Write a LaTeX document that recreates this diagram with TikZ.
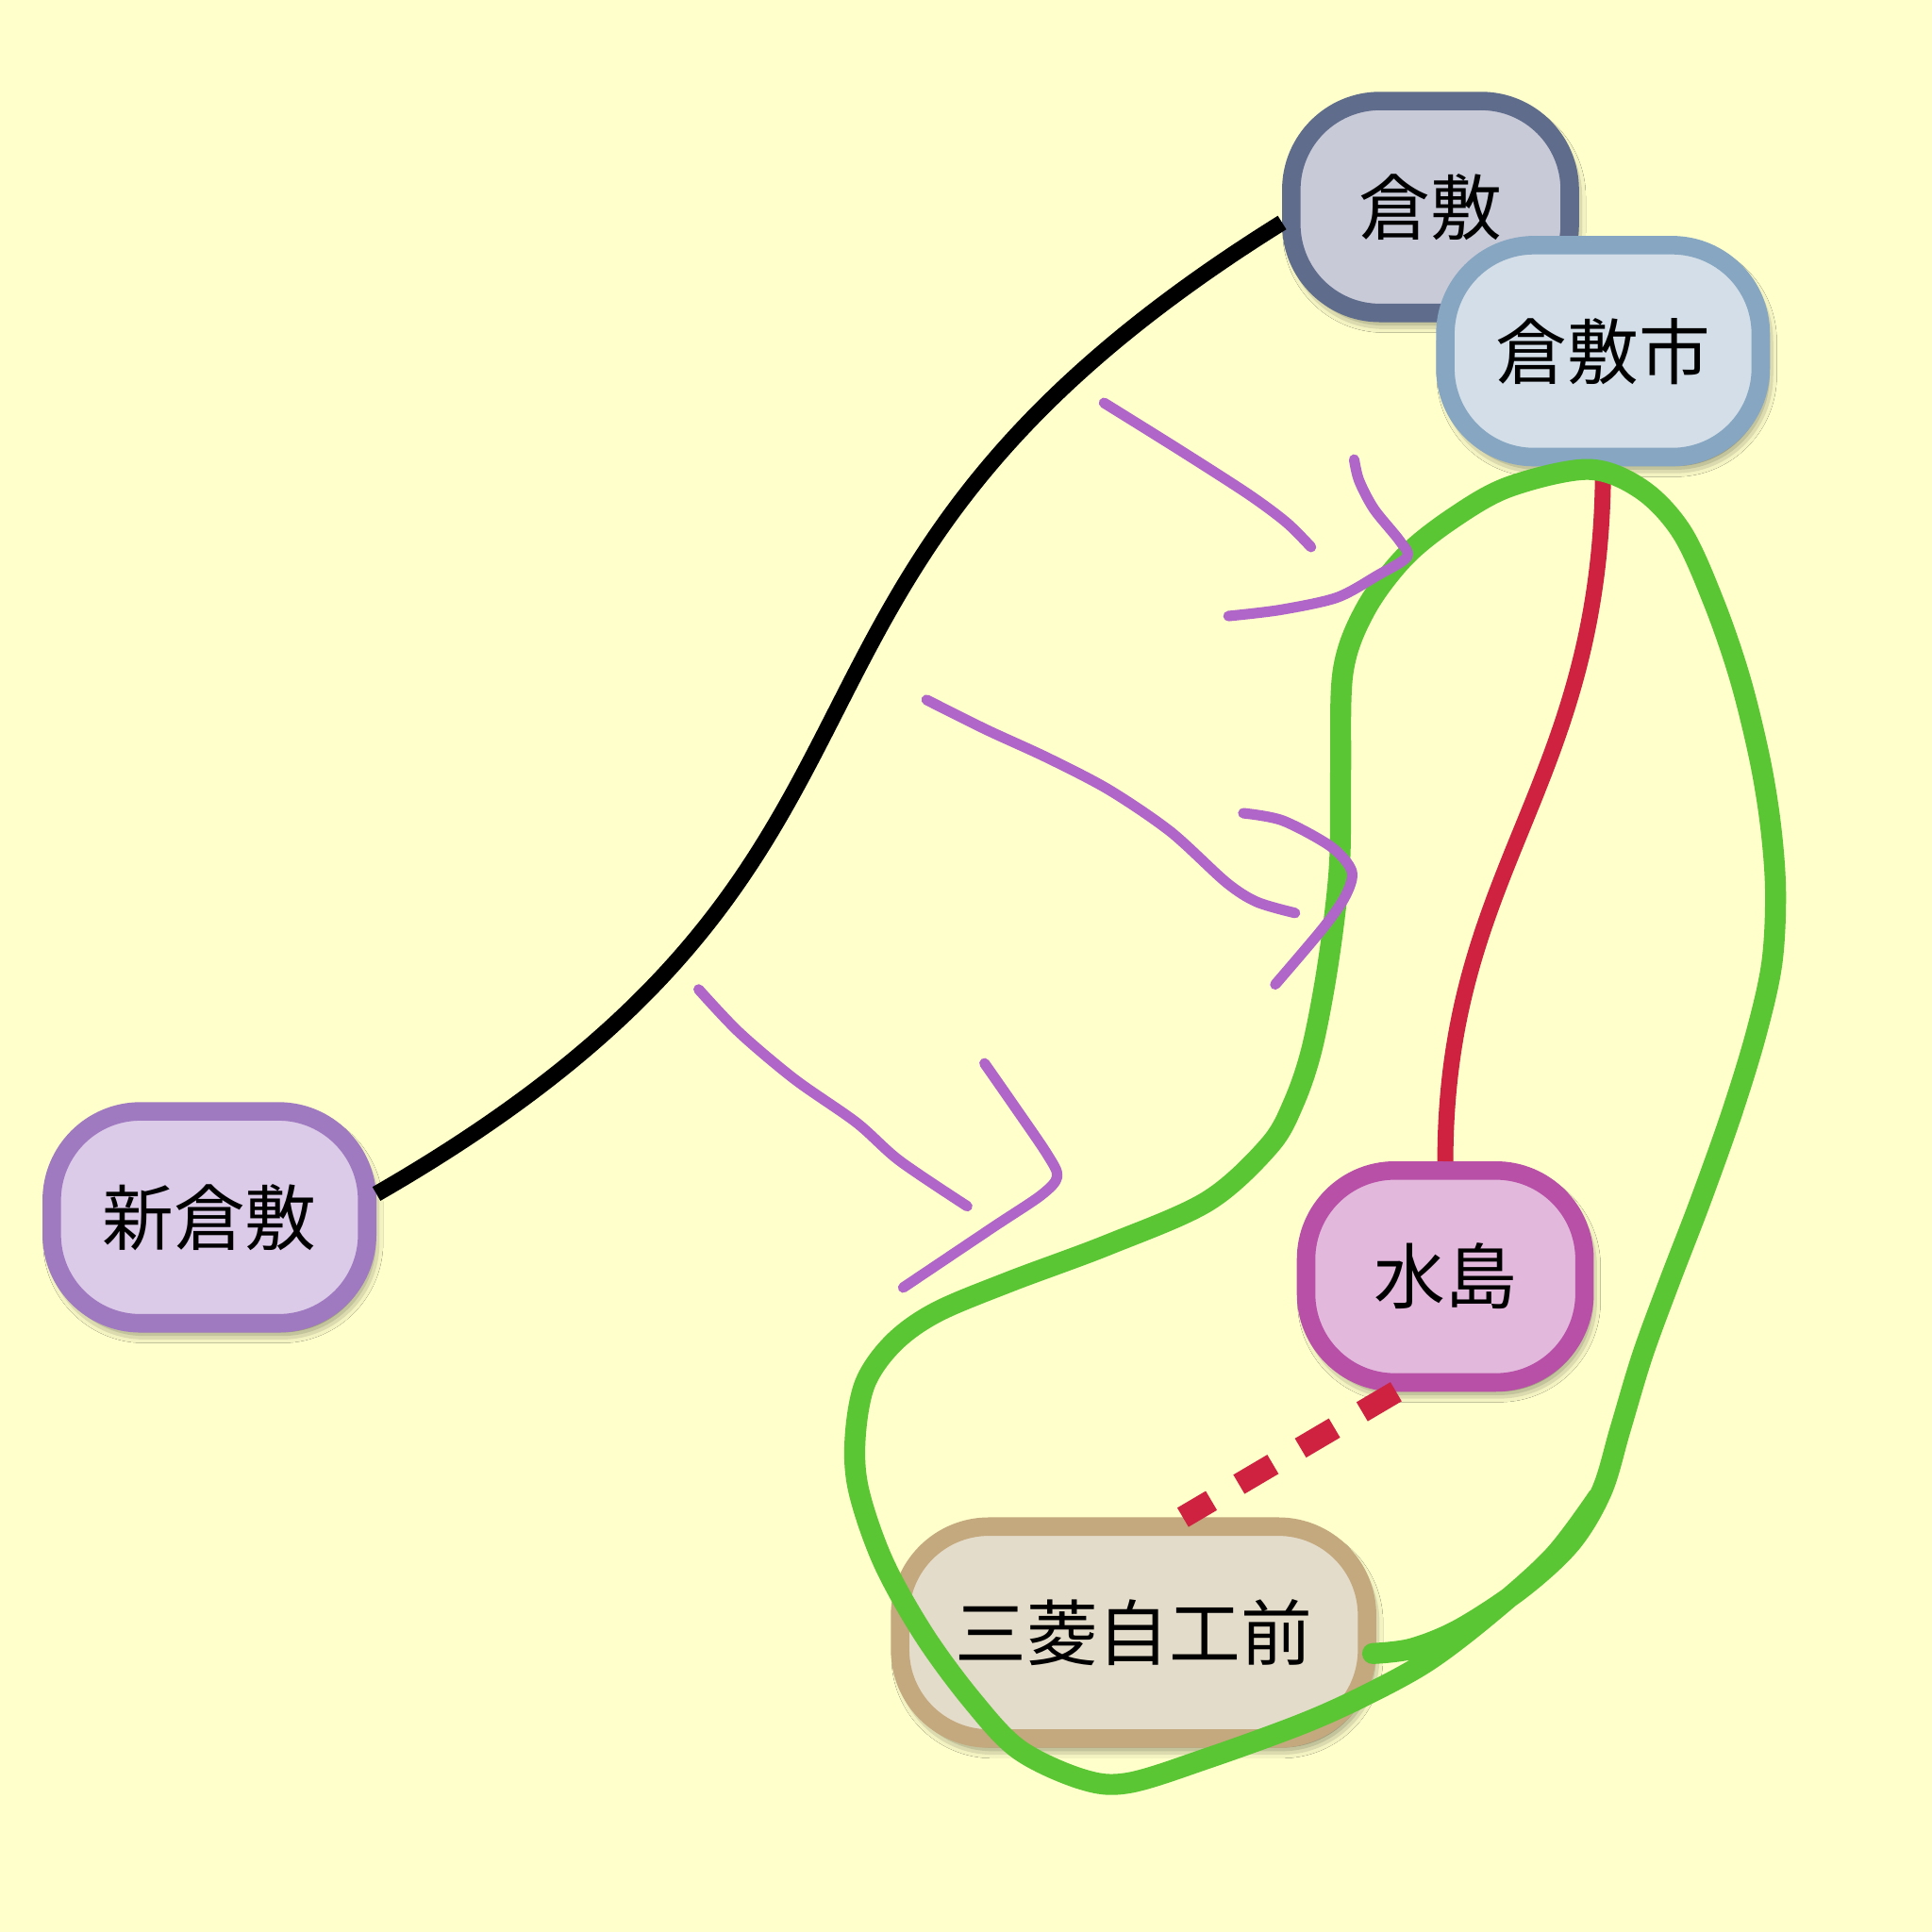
\documentclass[tikz,border=0pt]{standalone}
\usepackage{fontspec}
\newfontfamily\jpfont{Noto Sans CJK JP}
\usetikzlibrary{positioning,shadows.blur}

\definecolor{paper}{HTML}{FFFFCC}
\definecolor{kurashikiline}{HTML}{606C8C}
\definecolor{kurashikifill}{HTML}{C8CAD8}
\definecolor{shiline}{HTML}{86A6C2}
\definecolor{shifill}{HTML}{D3DEE8}
\definecolor{shinline}{HTML}{A07AC0}
\definecolor{shinfill}{HTML}{DBCAE8}
\definecolor{mizuline}{HTML}{B850A8}
\definecolor{mizufill}{HTML}{E2B8DC}
\definecolor{mitsuline}{HTML}{C4A87E}
\definecolor{mitsufill}{HTML}{E4DCCA}
\definecolor{rail}{HTML}{CF2240}
\definecolor{marker}{HTML}{5BC634}
\definecolor{pen}{HTML}{B066C8}

\begin{document}
\begin{tikzpicture}[%
    on grid,
    station/.style={rectangle, rounded corners=0.72cm, line width=0.15cm,
      minimum height=1.72cm, inner sep=0pt,
      font=\jpfont\fontsize{16.5}{20}\selectfont,
      blur shadow={shadow xshift=0.03cm, shadow yshift=-0.06cm,
        shadow blur radius=0.1cm, shadow opacity=75}},
    track/.style={line width=0.13cm},
    memo/.style={line width=0.17cm, marker, line cap=round, line join=round},
    scribble/.style={line width=0.085cm, pen, line cap=round, line join=round}
  ]
    \fill[paper] (0,0) rectangle (15.68,15.68);
    \useasboundingbox (0,0) rectangle (15.68,15.68);

    \node[station, draw=shinline, fill=shinfill, minimum width=2.56cm] (xk) at (1.70,5.80) {新倉敷};
    \node[station, draw=kurashikiline, fill=kurashikifill, minimum width=2.26cm] (ks) [above right=8.20cm and 9.91cm of xk] {倉敷};
    \node[station, draw=shiline, fill=shifill, minimum width=2.56cm] (kss) [below right=1.17cm and 1.40cm of ks] {倉敷市};
    \node[station, draw=mizuline, fill=mizufill, minimum width=2.26cm] (mz) [below left=7.51cm and 1.28cm of kss] {水島};
    \node[station, draw=mitsuline, fill=mitsufill, minimum width=3.79cm] (mj) [below left=2.89cm and 2.53cm of mz] {三菱自工前};

    \draw[track] (xk.8) .. controls (7.90,8.78) and (5.65,10.91) .. (ks.186);
    \draw[track, rail] (kss.south) .. controls +(0,-2.6) and +(0,2.4) .. (mz.north);
    \draw[track, rail, line width=0.18cm, dash pattern=on 0.32cm off 0.26cm]
      ([xshift=-0.4cm]mz.south) -- ([xshift=0.4cm]mj.north);

    % green loop round the branch
    \draw[memo] plot[smooth, tension=0.55] coordinates {
      (11.14,2.26) (11.46,2.30) (11.85,2.46) (12.35,2.79) (12.75,3.16) (13.00,3.58)
      (13.15,4.08) (13.33,4.68) (13.55,5.28) (13.80,5.93) (14.05,6.63) (14.25,7.28)
      (14.38,7.86) (14.41,8.44) (14.37,8.98) (14.28,9.53) (14.12,10.18) (13.91,10.79)
      (13.65,11.36) (13.32,11.71) (12.89,11.87) (12.25,11.73) (11.80,11.48) (11.40,11.16)
      (11.08,10.73) (10.90,10.23) (10.88,9.40) (10.87,8.64) (10.78,7.87) (10.65,7.18)
      (10.50,6.73) (10.30,6.38) (9.80,5.93) (9.00,5.58) (8.20,5.28) (7.60,5.03)
      (7.25,4.78) (7.02,4.45) (6.94,4.00) (6.97,3.58) (7.17,3.00) (7.50,2.41)
      (7.89,1.88) (8.27,1.48) (8.78,1.24) (9.16,1.21) (9.80,1.41) (10.57,1.69)
      (11.08,1.92) (11.59,2.20) (12.10,2.59) (12.61,3.05) (12.97,3.53)};

    % purple arrows
    \draw[scribble] plot[smooth, tension=0.5] coordinates {
      (8.96,12.41) (9.57,12.03) (10.13,11.67) (10.44,11.44) (10.64,11.24)};
    \draw[scribble] plot[smooth, tension=0.5] coordinates {
      (10.99,11.95) (11.03,11.78) (11.15,11.55) (11.36,11.29) (11.42,11.16)
      (11.18,11.01) (10.85,10.83) (10.39,10.73) (9.97,10.68)};
    \draw[scribble] plot[smooth, tension=0.5] coordinates {
      (7.52,10.00) (8.00,9.76) (8.50,9.53) (9.00,9.27) (9.50,8.93) (9.95,8.52)
      (10.20,8.36) (10.51,8.27)};
    \draw[scribble] plot[smooth, tension=0.5] coordinates {
      (10.09,9.08) (10.41,9.02) (10.80,8.81) (10.97,8.61) (10.92,8.41) (10.74,8.15)
      (10.35,7.69)};
    \draw[scribble] plot[smooth, tension=0.5] coordinates {
      (5.67,7.65) (6.00,7.30) (6.45,6.92) (6.95,6.57) (7.30,6.26) (7.85,5.89)};
    \draw[scribble] plot[smooth, tension=0.5] coordinates {
      (7.99,7.05) (8.22,6.72) (8.50,6.31) (8.58,6.13) (8.45,5.98) (8.06,5.72) (7.33,5.23)};
\end{tikzpicture}
\end{document}
